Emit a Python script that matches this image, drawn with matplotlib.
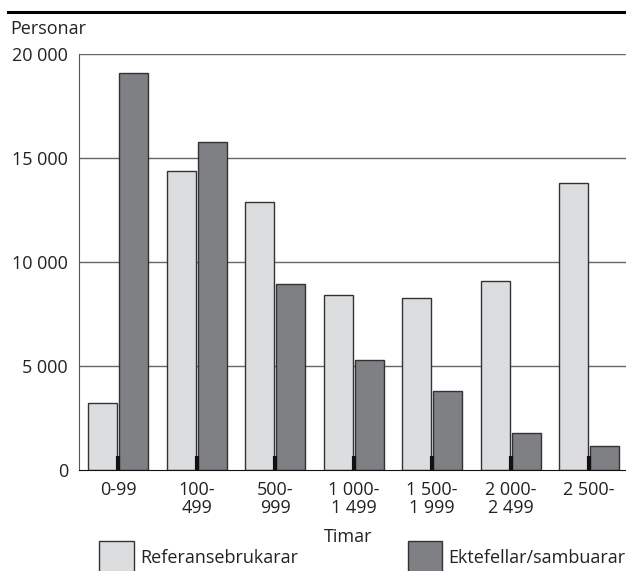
import numpy as np
import matplotlib.pyplot as plt
from matplotlib.patches import Rectangle
from matplotlib.lines import Line2D

plt.rcParams['font.family'] = ['Open Sans', 'DejaVu Sans']

# Data
categories = ['0-99', '100-\n499', '500-\n999', '1 000-\n1 499', '1 500-\n1 999', '2 000-\n2 499', '2 500-']
referanse = [3220, 14370, 12880, 8410, 8270, 9090, 13800]
ektefellar = [19090, 15770, 8940, 5290, 3800, 1780, 1150]
yticks = [0, 5000, 10000, 15000, 20000]
ytick_labels = ['0', '5 000', '10 000', '15 000', '20 000']

light = '#dcdddf'
dark = '#7f8084'
edge = '#333333'
fs = 13

fig = plt.figure(figsize=(6.26, 5.71), dpi=100)
ax = fig.add_axes([79 / 626, 1 - 470 / 571, 547 / 626, 416 / 571])

# gridlines behind bars, axis (ticks) drawn above bars
for yv in yticks[1:]:
    ax.axhline(yv, color='#666666', linewidth=1, zorder=0)
ax.set_axisbelow(False)

x = np.arange(len(categories))
w = 0.37
ax.bar(x - 0.197, referanse, w, color=light, edgecolor=edge, linewidth=1, zorder=2)
ax.bar(x + 0.197, ektefellar, w, color=dark, edgecolor=edge, linewidth=1, zorder=2)

ax.set_xlim(-0.5, 6.47)
ax.set_ylim(0, 20000)
ax.set_yticks(yticks)
ax.set_yticklabels(ytick_labels)
ax.set_xticks(x)
ax.set_xticklabels(categories, linespacing=1.0)
ax.tick_params(axis='y', length=0, pad=8, labelsize=fs, labelcolor='#222222')
ax.tick_params(axis='x', direction='in', length=10, width=3, color='#111111', pad=8,
               labelsize=fs, labelcolor='#222222')
for s in ['top', 'right']:
    ax.spines[s].set_visible(False)
ax.spines['left'].set_color('#555555')
ax.spines['bottom'].set_color('#111111')

# top rule and titles
fig.add_artist(Line2D([8 / 626, 1], [1 - 12 / 571] * 2, color='black', linewidth=2.2))
fig.text(10 / 626, 1 - 29 / 571, 'Personar', fontsize=fs, color='#222222', va='center', ha='left')
fig.text(348 / 626, 1 - 537 / 571, 'Timar', fontsize=fs, color='#222222', va='center', ha='center')

# legend
fig.add_artist(Rectangle((99 / 626, 1 - 575 / 571), 35 / 626, 34 / 571,
                         facecolor=light, edgecolor=edge, linewidth=1))
fig.text(140 / 626, 1 - 558 / 571, 'Referansebrukarar', fontsize=fs, color='#222222', va='center')
fig.add_artist(Rectangle((408 / 626, 1 - 575 / 571), 34 / 626, 34 / 571,
                         facecolor=dark, edgecolor=edge, linewidth=1))
fig.text(448 / 626, 1 - 558 / 571, 'Ektefellar/sambuarar', fontsize=fs, color='#222222', va='center')

fig.savefig('out.png', dpi=100)
